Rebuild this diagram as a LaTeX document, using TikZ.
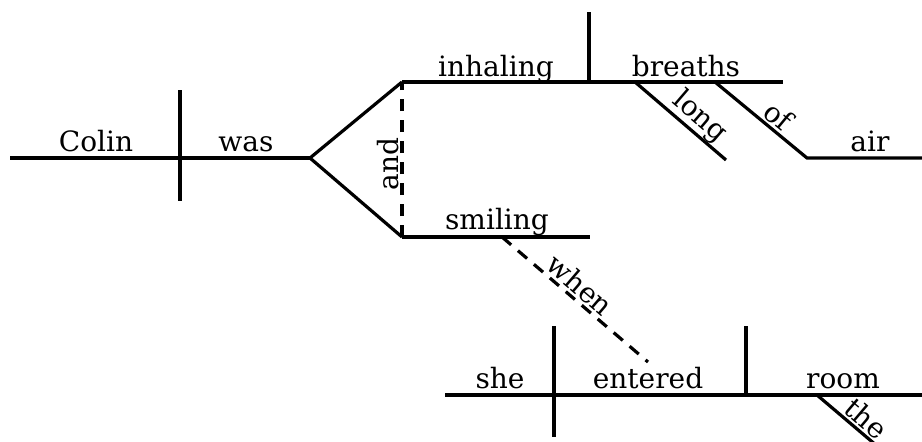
\documentclass[tikz,border=0pt]{standalone}
\usepackage{fontspec}
\setmainfont{DejaVu Serif}
\begin{document}
\begin{tikzpicture}[x=1pt,y=-1pt,
  rule/.style={line width=3.2pt, line cap=butt},
  dashrule/.style={rule, dash pattern=on 12pt off 9pt},
  word/.style={anchor=base, inner sep=0pt, font=\fontsize{28}{32}\selectfont},
  slantword/.style={sloped, anchor=south, inner sep=2pt, font=\fontsize{28}{32}\selectfont}]
\clip (0,0) rectangle (922,442);

% main clause: Colin | was
\coordinate (mL) at (10,158);
\coordinate (fork) at (310,158);
\coordinate (d1t) at (180,90);
\coordinate (d1b) at (180,201);
\draw[rule] (mL) -- (fork);
\draw[rule] (d1t) -- (d1b);
\node[word] (colin) at (96,151) {Colin};
\node[word] (was) at (246,151) {was};

% compound predicate
\coordinate (upL) at (402,82);
\coordinate (upR) at (783,82);
\coordinate (loL) at (402,237);
\coordinate (loR) at (590,237);
\draw[rule, line join=miter] (upL) -- (fork) -- (loL);
\draw[rule] (upL) -- (upR);
\draw[rule] (loL) -- (loR);
\draw[dashrule] (loL) -- node[slantword, pos=0.47] (and) {and} (upL);

% inhaling | breaths
\coordinate (d2t) at (589,12);
\coordinate (d2b) at (589,82);
\draw[rule] (d2t) -- (d2b);
\node[word] (inhaling) at (496,76) {inhaling};
\node[word] (breaths) at (686,76) {breaths};

% modifiers of breaths
\coordinate (lgA) at (635,82);
\coordinate (lgB) at (726,160);
\draw[rule] (lgA) -- node[slantword, pos=0.6, inner sep=0pt] (long) {long} (lgB);
\coordinate (ofA) at (715,82);
\coordinate (ofB) at (807,158);
\coordinate (airR) at (922,158);
\draw[rule, line join=miter] (ofA) -- node[slantword, pos=0.59] (of) {of} (ofB) -- (airR);
\node[word] (air) at (870,151) {air};

% smiling
\node[word] (smiling) at (497,229) {smiling};

% subordinate clause
\coordinate (whA) at (502,237);
\coordinate (whB) at (648,362);
\draw[dashrule] (whA) -- node[slantword, pos=0.47] (when) {when} (whB);

\coordinate (bL) at (445,395);
\coordinate (bR) at (922,395);
\draw[rule] (bL) -- (bR);
\coordinate (d3t) at (554,326);
\coordinate (d3b) at (554,437);
\draw[rule] (d3t) -- (d3b);
\coordinate (d4t) at (746,326);
\coordinate (d4b) at (746,395);
\draw[rule] (d4t) -- (d4b);
\node[word] (she) at (500,388) {she};
\node[word] (entered) at (648,388) {entered};
\node[word] (room) at (843,388) {room};

\coordinate (thA) at (817,395);
\coordinate (thB) at (890,457);
\draw[rule] (thA) -- node[slantword, pos=0.55] (the) {the} (thB);
\end{tikzpicture}
\end{document}
